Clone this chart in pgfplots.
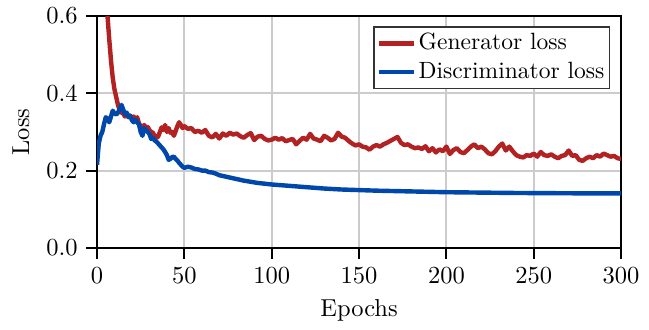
\documentclass[border=0pt]{standalone}
\usepackage{pgfplots}
\pgfplotsset{compat=1.18}
\usepackage{pgfplotstable}
\definecolor{genred}{RGB}{178,34,34}
\definecolor{disblue}{RGB}{0,71,171}
\pgfplotstableread{
e v
0 1.6
1 1.25
2 1.0
3 0.85
4 0.74
5 0.66
6 0.60
7 0.54
8 0.485
9 0.44
10 0.41
11 0.39
12 0.37
13 0.355
14 0.35
15 0.348
16 0.34
17 0.345
18 0.338
19 0.342
20 0.335
21 0.34
22 0.332
23 0.338
24 0.322
25 0.315
26 0.312
27 0.318
28 0.31
29 0.313
30 0.305
31 0.30
32 0.298
33 0.29
34 0.285
35 0.288
36 0.30
37 0.312
38 0.305
39 0.318
40 0.30
41 0.31
42 0.298
43 0.30
44 0.29
45 0.302
46 0.315
47 0.325
48 0.318
49 0.31
50 0.315
52 0.308
54 0.31
56 0.30
58 0.303
60 0.298
62 0.305
64 0.29
66 0.286
68 0.295
70 0.283
72 0.296
74 0.29
76 0.298
78 0.293
80 0.296
82 0.289
84 0.285
86 0.292
88 0.297
90 0.279
92 0.288
94 0.29
96 0.282
98 0.278
100 0.28
102 0.285
104 0.28
106 0.284
108 0.276
110 0.279
112 0.282
114 0.268
116 0.277
118 0.285
120 0.280
122 0.295
124 0.283
126 0.28
128 0.276
130 0.29
132 0.285
134 0.278
136 0.282
138 0.298
140 0.288
142 0.285
144 0.277
146 0.27
148 0.265
150 0.268
152 0.262
154 0.26
156 0.254
158 0.262
160 0.266
162 0.262
164 0.268
166 0.272
168 0.277
170 0.282
172 0.287
174 0.272
176 0.266
178 0.268
180 0.262
182 0.258
184 0.26
186 0.256
188 0.263
190 0.25
192 0.258
194 0.247
196 0.255
198 0.25
200 0.262
202 0.243
204 0.253
206 0.258
208 0.248
210 0.245
212 0.253
214 0.262
216 0.268
218 0.258
220 0.262
222 0.255
224 0.245
226 0.242
228 0.25
230 0.262
232 0.27
234 0.252
236 0.262
238 0.25
240 0.24
242 0.236
244 0.234
246 0.24
248 0.238
250 0.244
252 0.236
254 0.248
256 0.24
258 0.238
260 0.242
262 0.236
264 0.232
266 0.238
268 0.24
270 0.252
272 0.238
274 0.24
276 0.228
278 0.225
280 0.232
282 0.236
284 0.232
286 0.24
288 0.236
290 0.244
292 0.24
294 0.236
296 0.238
298 0.232
300 0.23
}\gen
\pgfplotstableread{
e v
0 0.215
1 0.27
2 0.29
3 0.30
4 0.32
5 0.338
6 0.335
7 0.325
8 0.34
9 0.355
10 0.348
11 0.345
12 0.35
13 0.36
14 0.37
15 0.358
16 0.345
17 0.35
18 0.34
19 0.342
20 0.33
21 0.325
22 0.332
23 0.325
24 0.32
25 0.30
26 0.29
27 0.31
28 0.305
29 0.30
30 0.295
31 0.282
32 0.285
33 0.278
34 0.275
35 0.27
36 0.265
37 0.26
38 0.255
39 0.248
40 0.24
41 0.228
42 0.23
43 0.235
44 0.236
45 0.23
46 0.226
47 0.22
48 0.215
49 0.21
50 0.207
52 0.21
54 0.208
56 0.204
58 0.203
60 0.2
62 0.2
64 0.196
66 0.195
68 0.192
70 0.188
72 0.186
74 0.184
76 0.182
78 0.18
80 0.178
84 0.174
88 0.171
92 0.168
96 0.166
100 0.164
110 0.1605
120 0.157
130 0.1535
140 0.151
150 0.1495
160 0.148
170 0.147
180 0.146
190 0.145
200 0.144
220 0.143
240 0.142
260 0.1415
280 0.141
300 0.141
}\dis
\begin{document}
\begin{tikzpicture}
\begin{axis}[
  name=ax,
  scale only axis,
  width=213.9pt, height=94.6pt,
  xmin=0, xmax=300, ymin=0, ymax=0.6,
  xtick={0,50,...,300},
  ytick={0,0.2,0.4,0.6},
  yticklabel style={/pgf/number format/.cd,fixed,fixed zerofill,precision=1},
  scaled y ticks=false,
  axis line style={line width=1pt, black},
  tick style={line width=0.8pt, black},
  tick align=outside,
  major tick length=4.4pt,
  xtick pos=bottom, ytick pos=left,
  grid=major,
  major grid style={line width=0.8pt, gray!40},
  xlabel={Epochs},
  ylabel={Loss},
  legend style={at={(0.979,0.955)}, anchor=north east, draw=black!80, line width=0.6pt,
    font=\fontsize{9.6}{11.5}\selectfont, inner xsep=1pt, inner ysep=1pt, row sep=0.5pt,
    nodes={inner xsep=1pt, inner ysep=1.5pt}},
  legend cell align=left,
  legend image code/.code={\draw[#1, line width=1.8pt] (0pt,0pt) -- (10.6pt,0pt);
    \path (0pt,0pt) -- (14.4pt,0pt);},
]
\addplot[genred, line width=1.8pt, line join=round] table[x=e,y=v] {\gen};
\addlegendentry{Generator loss}
\addplot[disblue, line width=1.8pt, line join=round] table[x=e,y=v] {\dis};
\addlegendentry{Discriminator loss}
\end{axis}
\path[use as bounding box] (ax.south west) ++(-39.6pt,-30.9pt) rectangle ++(264.9pt,131.8pt);
\end{tikzpicture}
\end{document}
